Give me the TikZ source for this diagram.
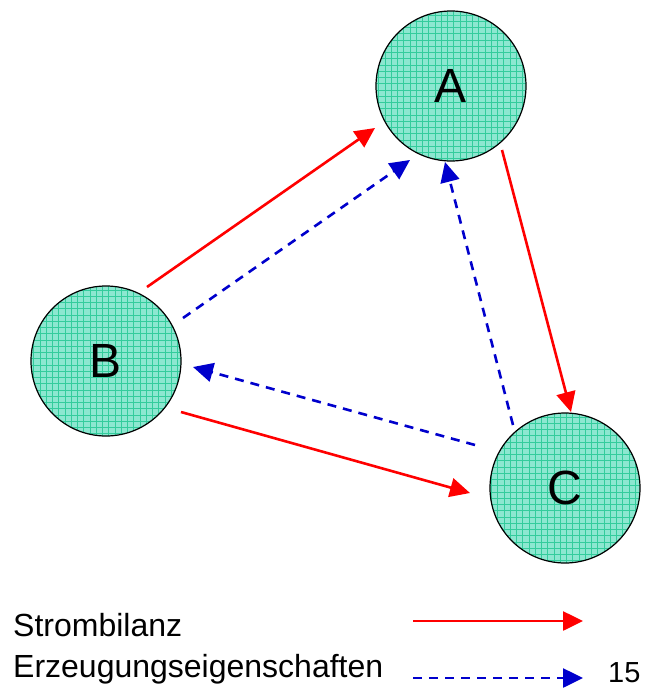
\documentclass[tikz,border=0pt]{standalone}
\usepackage{fontspec}
\setmainfont{Liberation Sans}
\usetikzlibrary{calc,arrows.meta}

\definecolor{cellfill}{HTML}{8CE7D0}
\definecolor{cellline}{HTML}{33CC9C}
\definecolor{flowred}{HTML}{FF0000}
\definecolor{flowblue}{HTML}{0000CC}

\tikzset{
  station/.style={circle, minimum size=150pt, inner sep=0pt, draw=black,
    line width=1.2pt, fill=cellfill,
    font=\fontsize{48}{50}\selectfont,
    path picture={\draw[cellline, line width=0.6pt]
      (path picture bounding box.south west) grid[step=6.25pt]
      (path picture bounding box.north east);}},
  balance/.style={draw=flowred, line width=2.6pt,
    -{Triangle[length=20pt, width=19pt]}},
  property/.style={draw=flowblue, line width=2.6pt, dash pattern=on 9pt off 7pt,
    -{Triangle[length=20pt, width=19pt]}},
  legendtext/.style={anchor=base west, inner sep=0pt,
    font=\fontsize{32}{36}\selectfont},
}

\begin{document}
\begin{tikzpicture}[x=1pt, y=-1pt]
  \useasboundingbox (0,0) rectangle (650,691);

  % stations
  \node[station] (A) at (451,86) {A};
  \node[station] (B) at (106,361) {B};
  \node[station] (C) at (565,488) {C};

  % power balance flows
  \draw[balance] ($(B)+(41,-74)$) -- ($(A)+(-76,42)$);
  \draw[balance] ($(A)+(51,64)$) -- ($(C)+(6,-76)$);
  \draw[balance] ($(B)+(75,51)$) -- ($(C)+(-95,5)$);

  % generation property flows
  \draw[property] ($(B)+(77,-43)$) -- ($(A)+(-41,74)$);
  \draw[property] ($(C)+(-52,-63)$) -- ($(A)+(-6,76)$);
  \draw[property] ($(C)+(-90,-43)$) -- ($(B)+(87,6)$);

  % legend
  \node[legendtext] (l1) at (13,636) {Strombilanz};
  \node[legendtext] (l2) at (13,677) {Erzeugungseigenschaften};
  \coordinate (s1) at (413,621);
  \coordinate (s2) at (583,621);
  \coordinate (e1) at (413,678);
  \coordinate (e2) at (583,678);
  \draw[balance] (s1) -- (s2);
  \draw[property] (e1) -- (e2);

  \node[anchor=base west, inner sep=0pt, font=\fontsize{29}{31}\selectfont]
    (pg) at (608,682) {15};
\end{tikzpicture}
\end{document}
